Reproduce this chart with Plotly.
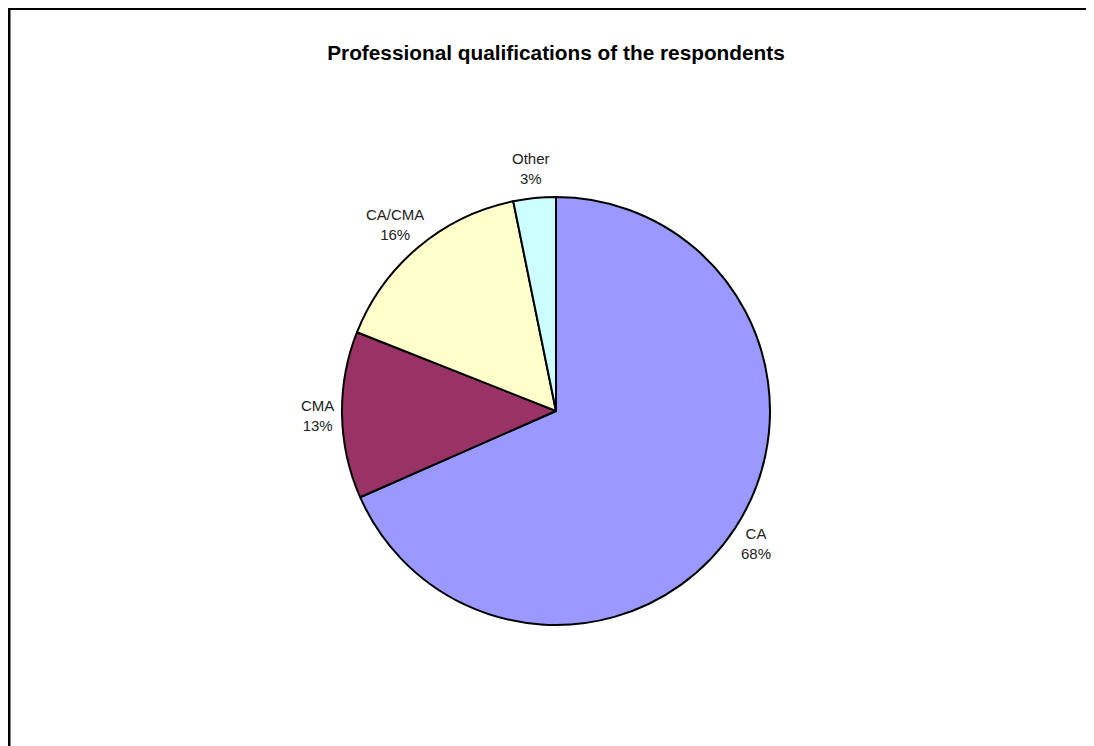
import math
import plotly.graph_objects as go

categories = ["CA", "CMA", "CA/CMA", "Other"]
values = [68.4, 12.6, 15.8, 3.2]
colors = ["#9999FF", "#993366", "#FFFFCC", "#CCFFFF"]

W, H = 1094, 746
OFF = 8  # page body margin
cx, cy, r = 556 - OFF, 411 - OFF, 214
FS = 15
GAP = 12

fig = go.Figure(go.Pie(
    labels=categories,
    values=values,
    sort=False,
    direction="clockwise",
    rotation=0,
    marker=dict(colors=colors, line=dict(color="black", width=2)),
    textinfo="none",
    hoverinfo="label+percent",
    showlegend=False,
    domain=dict(x=[(cx - 240) / W, (cx + 240) / W],
                y=[(H - cy - r) / H, (H - cy + r) / H]),
))

# Label placement derived from slice mid-angles (clockwise from 12 o'clock)
total = sum(values)
annotations = []
cum = 0
for lab, v in zip(categories, values):
    mid = (cum + v / 2) / total * 2 * math.pi
    cum += v
    dx, dy = math.sin(mid), math.cos(mid)  # dy positive = up
    pct = f"{round(100 * v / total)}%"
    hw = max(len(lab), len(pct)) * 0.55 * FS / 2
    hh = FS * 1.15
    px = cx + (r + GAP + hw) * dx
    py = cy - (r + GAP + hh) * dy
    annotations.append(dict(
        x=px / W, y=1 - py / H, xref="paper", yref="paper",
        text=f"{lab}<br>{pct}", showarrow=False,
        xanchor="center", yanchor="middle", align="center",
        font=dict(family="Liberation Sans, Arial, sans-serif", size=FS, color="#222222"),
    ))

fig.update_layout(
    width=W, height=H,
    margin=dict(l=0, r=0, t=0, b=0),
    paper_bgcolor="white",
    plot_bgcolor="white",
    title=dict(
        text="<b>Professional qualifications of the respondents</b>",
        x=cx / W, xanchor="center",
        y=1 - (53 - OFF) / H, yanchor="middle",
        font=dict(family="Liberation Sans, Arial, sans-serif", size=20.8, color="black"),
    ),
    annotations=annotations,
    shapes=[
        dict(type="line", xref="paper", yref="paper",
             x0=0, x1=1.02, y0=1 - 0.5 / H, y1=1 - 0.5 / H,
             line=dict(color="black", width=3)),
        dict(type="line", xref="paper", yref="paper",
             x0=1 / W, x1=1 / W, y0=1, y1=-0.02,
             line=dict(color="black", width=3)),
    ],
)

fig.write_html("out.html")
